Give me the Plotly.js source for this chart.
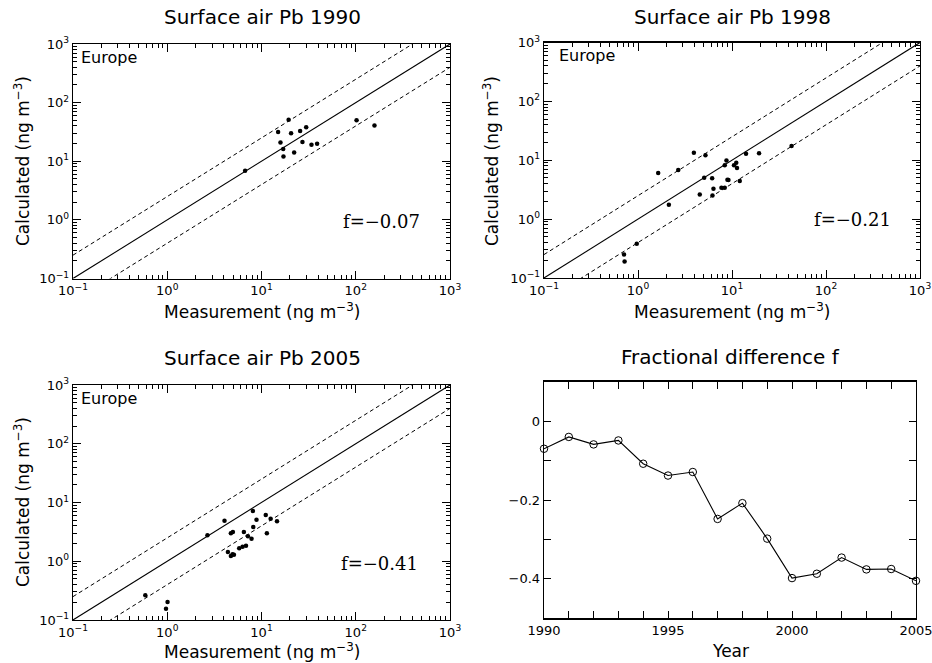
<!DOCTYPE html>
<html>
<head>
<meta charset="utf-8">
<script src="https://cdn.plot.ly/plotly-3.0.1.min.js"></script>
<style>html,body{margin:0;padding:0;background:#fff}#chart{width:932px;height:663px}</style>
</head>
<body>
<div id="chart"></div>
<script>
// ---- data ----
const meas1990 = [6.7, 15.0, 19.4, 15.9, 20.6, 25.7, 29.8, 17.0, 17.1, 22.2, 27.2, 33.9, 38.9, 102, 158];
const calc1990 = [6.9, 31.4, 50.8, 20.9, 30.0, 32.7, 38.2, 16.1, 12.1, 14.1, 21.2, 19.1, 19.9, 50, 40.6];

const meas1998 = [0.71, 0.72, 0.97, 1.64, 2.13, 2.68, 3.93, 5.22, 4.54, 5.06, 6.15, 6.35, 6.2, 7.72, 8.37, 8.37, 8.73, 8.94, 9.16, 10.5, 11.1, 11.3, 12.1, 14.1, 19.4, 43.0];
const calc1998 = [0.25, 0.19, 0.38, 6.05, 1.75, 6.8, 13.4, 12.2, 2.62, 5.04, 4.97, 3.27, 2.51, 3.4, 3.4, 8.2, 9.9, 4.66, 4.6, 8.2, 9.06, 7.36, 4.43, 12.9, 13.1, 17.4];

const meas2005 = [0.585, 0.97, 1.007, 2.67, 4.05, 4.73, 4.97, 4.4, 4.73, 4.93, 5.1, 5.8, 6.3, 6.85, 6.5, 7.18, 7.84, 8.1, 8.17, 8.85, 11.1, 11.4, 12.5, 14.6];
const calc2005 = [0.263, 0.156, 0.202, 2.76, 4.9, 2.99, 3.15, 1.44, 1.23, 1.31, 1.29, 1.66, 1.77, 1.84, 3.15, 2.66, 2.42, 7.16, 3.83, 5.1, 6.1, 2.99, 5.3, 4.79];

const years = [1990, 1991, 1992, 1993, 1994, 1995, 1996, 1997, 1998, 1999, 2000, 2001, 2002, 2003, 2004, 2005];
const fracDiff = [-0.070, -0.040, -0.059, -0.049, -0.108, -0.138, -0.129, -0.248, -0.208, -0.298, -0.398, -0.387, -0.346, -0.376, -0.375, -0.405];

const fLabels = ['f=\u22120.07', 'f=\u22120.21', 'f=\u22120.41'];
const panelTitles = ['Surface air Pb 1990', 'Surface air Pb 1998', 'Surface air Pb 2005', 'Fractional difference f'];

const logTickVals = [0.1, 1, 10, 100, 1000];
const logTickText = ['10<sup>\u22121</sup>', '10<sup>0</sup>', '10<sup>1</sup>', '10<sup>2</sup>', '10<sup>3</sup>'];
const yearTickVals = years;
const yearTickText = years.map(y => (y % 5 === 0 ? String(y) : ''));
const fTickVals = [-0.4, -0.3, -0.2, -0.1, 0];
const fTickText = ['\u22120.4', '', '\u22120.2', '', '0'];

const refX = [0.1, 1000];
const factor = 2.5;

// ---- build ----
const minorLog = [];
for (let e = -1; e < 3; e++) for (let m = 2; m <= 9; m++) minorLog.push(m * Math.pow(10, e));

const FONT = 'DejaVu Sans, Verdana, sans-serif';
const SERIF = 'DejaVu Serif, Liberation Serif, serif';

function logAxis(domain, anchor) {
  return {
    type: 'log', range: [-1, 3], domain: domain, anchor: anchor,
    showline: true, linecolor: 'black', linewidth: 1.3, mirror: 'ticks',
    ticks: 'inside', ticklen: 8, tickwidth: 1, tickcolor: 'black',
    tickmode: 'array', tickvals: logTickVals, ticktext: logTickText,
    tickfont: {family: FONT, size: 13, color: 'black'}, ticklabeloverflow: 'allow',
    showgrid: false, zeroline: false,
    minor: {tickmode: 'array', tickvals: minorLog, ticks: 'inside', ticklen: 4, tickwidth: 1, tickcolor: 'black', showgrid: false}
  };
}

const dom = {
  x1: [73/932, 450/932], y1: [1-278.5/663, 1-44/663],
  x2: [544/932, 920/932], y2: [1-278/663, 1-42.5/663],
  x3: [73/932, 450/932], y3: [1-620/663, 1-385/663],
  x4: [544/932, 916/932], y4: [1-618.3/663, 1-381.7/663]
};

const traces = [];
const sets = [[meas1990, calc1990], [meas1998, calc1998], [meas2005, calc2005]];
sets.forEach((s, i) => {
  const xa = 'x' + (i === 0 ? '' : i + 1), ya = 'y' + (i === 0 ? '' : i + 1);
  traces.push({x: refX, y: refX, xaxis: xa, yaxis: ya, mode: 'lines', line: {color: 'black', width: 1.1}, hoverinfo: 'skip'});
  traces.push({x: refX, y: refX.map(v => v * factor), xaxis: xa, yaxis: ya, mode: 'lines', line: {color: 'black', width: 1, dash: '4px,3px'}, hoverinfo: 'skip'});
  traces.push({x: refX, y: refX.map(v => v / factor), xaxis: xa, yaxis: ya, mode: 'lines', line: {color: 'black', width: 1, dash: '4px,3px'}, hoverinfo: 'skip'});
  traces.push({x: s[0], y: s[1], xaxis: xa, yaxis: ya, mode: 'markers', marker: {color: 'black', size: 4.5}, cliponaxis: true});
});
traces.push({x: years, y: fracDiff, xaxis: 'x4', yaxis: 'y4', mode: 'lines+markers',
  line: {color: 'black', width: 1.1},
  marker: {symbol: 'circle-open', size: 7.5, color: 'black', line: {width: 1, color: 'black'}}, cliponaxis: false});

const layout = {
  width: 932, height: 663, margin: {l: 0, r: 0, t: 0, b: 0},
  paper_bgcolor: 'white', plot_bgcolor: 'white', showlegend: false,
  font: {family: FONT, color: 'black'},
  xaxis: logAxis(dom.x1, 'y'), yaxis: logAxis(dom.y1, 'x'),
  xaxis2: logAxis(dom.x2, 'y2'), yaxis2: logAxis(dom.y2, 'x2'),
  xaxis3: logAxis(dom.x3, 'y3'), yaxis3: logAxis(dom.y3, 'x3'),
  xaxis4: {
    domain: dom.x4, anchor: 'y4', range: [1990, 2005],
    showline: true, linecolor: 'black', linewidth: 1.3, mirror: 'ticks',
    ticks: 'inside', ticklen: 7, tickcolor: 'black',
    tickmode: 'array', tickvals: yearTickVals, ticktext: yearTickText,
    tickfont: {family: FONT, size: 13, color: 'black'}, ticklabeloverflow: 'allow',
    showgrid: false, zeroline: false
  },
  yaxis4: {
    domain: dom.y4, anchor: 'x4', range: [-0.5, 0.1],
    showline: true, linecolor: 'black', linewidth: 1.3, mirror: 'ticks',
    ticks: 'inside', ticklen: 7, tickcolor: 'black',
    tickmode: 'array', tickvals: fTickVals, ticktext: fTickText,
    tickfont: {family: FONT, size: 13, color: 'black'}, showgrid: false, zeroline: false
  },
  annotations: []
};

const A = layout.annotations;
function ann(text, x, y, opts) {
  A.push(Object.assign({text: text, x: x / 932, y: 1 - y / 663, xref: 'paper', yref: 'paper', showarrow: false,
    font: {family: FONT, size: 17, color: 'black'}, xanchor: 'center', yanchor: 'middle'}, opts || {}));
}
const TF = {family: FONT, size: 20, color: 'black'};
// panel titles
ann(panelTitles[0], 262, 17, {font: TF});
ann(panelTitles[1], 732, 17, {font: TF});
ann(panelTitles[2], 262, 358, {font: TF});
ann(panelTitles[3], 730, 357, {font: TF});
// axis titles
ann('Measurement (ng m<sup>\u22123</sup>)', 262, 311);
ann('Measurement (ng m<sup>\u22123</sup>)', 732, 311);
ann('Measurement (ng m<sup>\u22123</sup>)', 262, 651);
ann('Year', 730, 651);
ann('Calculated (ng m<sup>\u22123</sup>)', 22, 161, {textangle: -90});
ann('Calculated (ng m<sup>\u22123</sup>)', 491, 161, {textangle: -90});
ann('Calculated (ng m<sup>\u22123</sup>)', 22, 502, {textangle: -90});
// region labels
const EF = {family: FONT, size: 16, color: 'black'};
ann('Europe', 79, 57, {xanchor: 'left', font: EF});
ann('Europe', 557, 55, {xanchor: 'left', font: EF});
ann('Europe', 79, 398, {xanchor: 'left', font: EF});
// f values
const FF = {family: SERIF, size: 18, color: 'black'};
ann(fLabels[0], 381, 222, {font: FF});
ann(fLabels[1], 852, 220, {font: FF});
ann(fLabels[2], 379, 563, {font: FF});

Plotly.newPlot('chart', traces, layout, {staticPlot: true, displayModeBar: false});
</script>
</body>
</html>
